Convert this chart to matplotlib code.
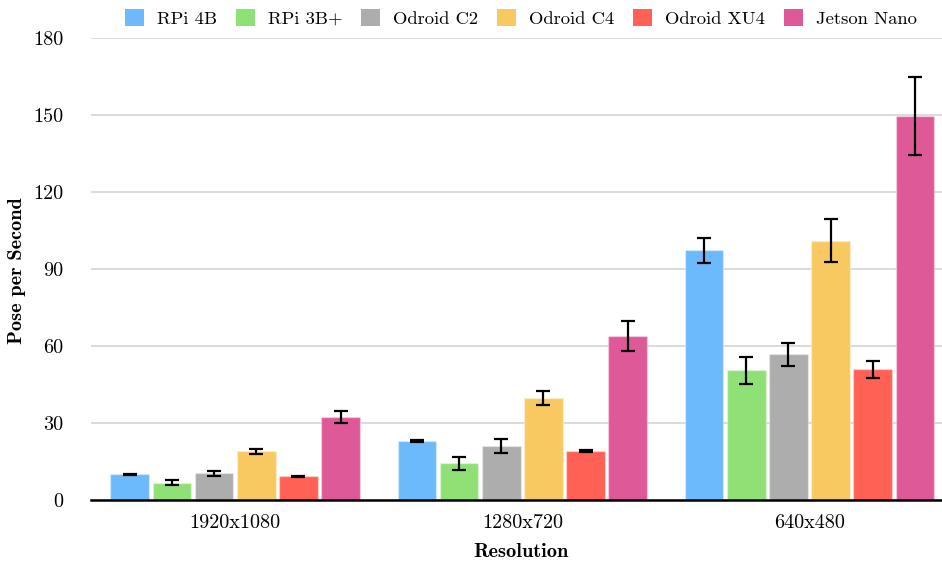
import numpy as np
import matplotlib
matplotlib.use("Agg")
import matplotlib.pyplot as plt
from matplotlib.patches import Patch

resolutions = ["1920x1080", "1280x720", "640x480"]
devices = ["RPi 4B", "RPi 3B+", "Odroid C2", "Odroid C4", "Odroid XU4", "Jetson Nano"]
colors = ["#6cbafb", "#8fe075", "#adadad", "#f8c960", "#ff6155", "#de5998"]

rpi4b = [10.0, 22.9, 97.3]
rpi3b = [6.8, 14.3, 50.5]
odroid_c2 = [10.4, 21.0, 56.7]
odroid_c4 = [19.0, 39.7, 101.1]
odroid_xu4 = [9.2, 19.0, 50.9]
jetson = [32.2, 63.9, 149.5]

rpi4b_err = [0.3, 0.4, 4.9]
rpi3b_err = [1.0, 2.6, 5.4]
odroid_c2_err = [0.9, 2.7, 4.5]
odroid_c4_err = [0.9, 2.6, 8.2]
odroid_xu4_err = [0.2, 0.3, 3.3]
jetson_err = [2.3, 5.8, 15.2]

values = [rpi4b, rpi3b, odroid_c2, odroid_c4, odroid_xu4, jetson]
errors = [rpi4b_err, rpi3b_err, odroid_c2_err, odroid_c4_err, odroid_xu4_err, jetson_err]

yticks = [0, 30, 60, 90, 120, 150, 180]

plt.rcParams['font.family'] = ['cmr10', 'DejaVu Serif']
plt.rcParams['mathtext.fontset'] = 'cm'

fig = plt.figure(figsize=(9.42, 5.65), dpi=100)
ax = fig.add_axes([0.0966, 0.115, 0.903, 0.8177])

x = np.arange(len(resolutions))
step = 0.1469
width = 0.1347
for i, (vals, errs, c) in enumerate(zip(values, errors, colors)):
    pos = x + (i - 2.5) * step
    ax.bar(pos, vals, width=width, color=c, edgecolor=matplotlib.colors.to_rgba('white', 0.35),
           linewidth=1, zorder=3)
    ax.errorbar(pos, vals, yerr=errs, fmt='none', ecolor='black', elinewidth=1.6,
                capsize=5, capthick=1.6, zorder=4)

ax.set_xlim(-0.502, 2.46)
ax.set_ylim(0, 180)
ax.set_yticks(yticks)
ax.set_yticklabels([str(t) for t in yticks])
ax.set_xticks(x)
ax.set_xticklabels(resolutions)
ax.tick_params(axis='both', length=0, labelsize=14.5)
ax.tick_params(axis='x', pad=10)
ax.tick_params(axis='y', pad=20)
ax.grid(axis='y', color='#d4d4d4', linewidth=1.2, zorder=0)
ax.set_axisbelow(True)
for s in ['top', 'right', 'left']:
    ax.spines[s].set_visible(False)
ax.spines['bottom'].set_linewidth(1.8)
ax.spines['bottom'].set_zorder(5)

ylab = ax.set_ylabel("Pose per Second", family='cmb10', fontsize=14.6)
ax.yaxis.set_label_coords(-0.087, 0.497)
ylab.set_verticalalignment('center')
xlab = ax.set_xlabel("Resolution", family='cmb10', fontsize=14.6)
ax.xaxis.set_label_coords(0.5, -0.1126)
xlab.set_verticalalignment('center')
xlab.set_x((521.5 - 91) / 851)

handles = [Patch(facecolor=c, edgecolor='none') for c in colors]
fig.legend(handles, devices, loc='center', bbox_to_anchor=(0.553, 0.968), ncol=6,
           frameon=False, fontsize=13.4, handlelength=1.02, handleheight=1.0,
           handletextpad=0.7, columnspacing=1.0)

fig.savefig("out.png", dpi=100)
